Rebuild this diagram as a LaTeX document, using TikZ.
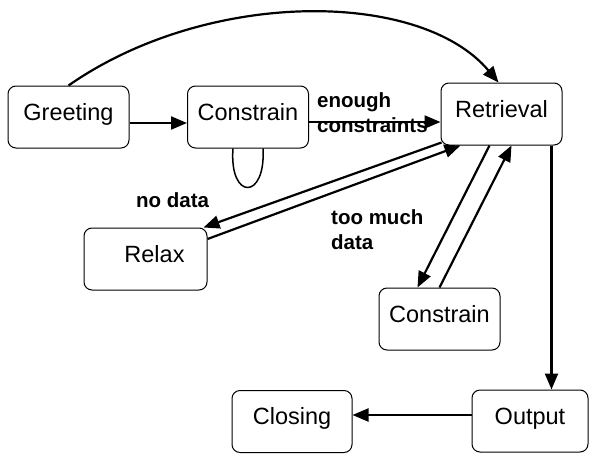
\documentclass[tikz,border=0pt]{standalone}
\usepackage{fontspec}
\setmainfont{Liberation Sans}
\usetikzlibrary{arrows.meta, calc, positioning}

\begin{document}
\begin{tikzpicture}[
    % Units of one point, y pointing down (follows the layout of the sketch)
    x=1pt,
    y=-1pt,
    >={Triangle[length=16pt, width=13pt]},
    state/.style={draw, line width=1pt, rounded corners=8pt, inner sep=0pt,
        minimum width=121pt, minimum height=62pt,
        text height=17pt, text depth=11pt,
        font=\fontsize{23.5}{28}\selectfont},
    trans/.style={->, line width=2.2pt},
    tlabel/.style={anchor=north west, inner sep=0pt, align=left,
        font=\fontsize{20.5}{25}\selectfont\bfseries}
]
    \useasboundingbox (0,0) rectangle (589,453);

    % --- States ---
    \node[state] (greet) at (68.5,117) {Greeting};
    \node[state] (con) at (248,117) {Constrain};
    \node[state] (ret) at (501.5,114) {Retrieval};
    \node[state, minimum width=123pt] (relax) at (145.5,259) {\hspace*{18pt}Relax};
    \node[state] (con2) at (439.5,319) {Constrain};
    \node[state, minimum width=120pt] (closing) at (292,421.5) {Closing};
    \node[state, minimum width=116pt] (output) at (530,421) {Output};

    % --- Transition labels ---
    \node[tlabel] (lbl-enough) at (317,92) {enough\\constraints};
    \node[tlabel] (lbl-nodata) at (136,192) {no data};
    \node[tlabel] (lbl-toomuch) at (331,209.5) {too much\\data};

    % --- Transitions ---
    \draw[trans] (greet.north) .. controls +(139,-97) and +(-78,-93) .. ([xshift=-3pt]ret.north);
    \draw[trans] ([yshift=-6pt]greet.east) -- ([yshift=-6pt]con.west);
    \draw[trans] ([yshift=-5pt]con.east) -- ([yshift=-5pt]con.east -| ret.west);
    % loop under the first Constrain (no tip)
    \draw[line width=1.5pt] ([xshift=-15pt]con.south) .. controls +(-4,52) and +(3,52) .. ([xshift=15pt]con.south);

    \draw[trans] ([shift={(1pt,3pt)}]ret.south west) -- ([xshift=-4pt]relax.north east);
    \draw[trans] ([yshift=20pt]relax.east) -- ([xshift=-41pt]ret.south);
    \draw[trans] ([xshift=-12pt]ret.south) -- ([xshift=-22pt]con2.north);
    \draw[trans] (con2.north) -- ([xshift=10pt]ret.south);

    \draw[trans] ([xshift=-11pt]ret.south east) -- ([xshift=-11pt]ret.south east |- output.north);
    \draw[trans] ([yshift=6pt]output.west) -- ([yshift=6pt]output.west -| closing.east);

\end{tikzpicture}
\end{document}
